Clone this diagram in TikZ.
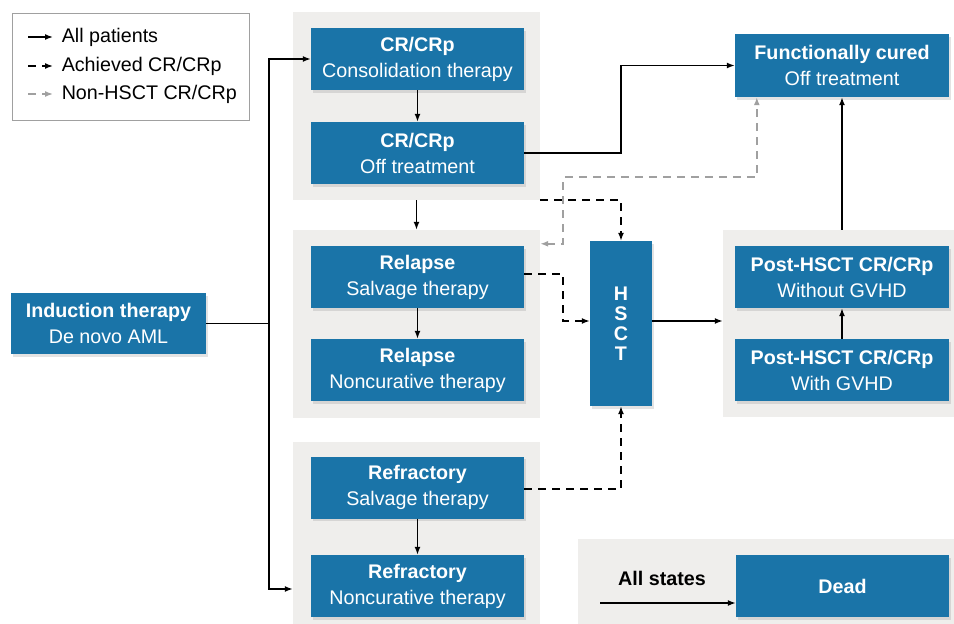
\documentclass[tikz,border=0pt]{standalone}
\usepackage{fontspec}
\setmainfont{Liberation Sans}
\usetikzlibrary{arrows.meta,shadows,calc}
\definecolor{boxblue}{RGB}{26,116,168}
\definecolor{panelgray}{RGB}{239,238,236}
\definecolor{nongray}{RGB}{160,160,160}
\begin{document}
\begin{tikzpicture}[x=1pt,y=-1pt,
  every node/.style={font=\fontsize{19.7}{26}\selectfont},
  box/.style={fill=boxblue, text=white, align=center, inner sep=0pt,
    minimum width=213pt, minimum height=62pt,
    drop shadow={opacity=0.22, shadow xshift=2pt, shadow yshift=-2.5pt}},
  panel/.style={fill=panelgray, inner sep=0pt},
  arr/.style={line width=1.5pt, -{Latex[length=8pt,width=6pt]}},
  plain/.style={line width=1.5pt},
  darr/.style={arr, dash pattern=on 8pt off 6pt},
  garr/.style={line width=1.5pt, nongray, dash pattern=on 8pt off 6pt}
]
\useasboundingbox (0,0) rectangle (954,624);
% panels
\node[panel, minimum width=247pt, minimum height=188pt] (p1) at (416.5,106) {};
\node[panel, minimum width=247pt, minimum height=188pt] (p2) at (416.5,324) {};
\node[panel, minimum width=247pt, minimum height=182pt] (p3) at (416.5,533) {};
\node[panel, minimum width=231pt, minimum height=187pt] (p4) at (838.5,323.5) {};
\node[panel, minimum width=376pt, minimum height=85pt] (p5) at (766,581.5) {};
% legend
\node[draw=nongray, line width=1pt, minimum width=237pt, minimum height=107pt, inner sep=0pt] (leg) at (130.5,66.5) {};
\coordinate (l1) at (28,37);
\coordinate (l2) at (28,66);
\coordinate (l3) at (28,94);
\draw[arr] (l1) -- ++(25,0) node[anchor=west, xshift=8pt, inner sep=0pt] (t1) {All patients};
\draw[darr] (l2) -- ++(25,0) node[anchor=west, xshift=8pt, inner sep=0pt] (t2) {Achieved CR/CRp};
\draw[garr, -{Latex[length=8pt,width=6pt]}] (l3) -- ++(25,0) node[anchor=west, xshift=8pt, inner sep=0pt, text=black] (t3) {Non-HSCT CR/CRp};
% boxes
\node[box, minimum width=195pt, minimum height=61pt] (ind) at (108.5,323.5) {\textbf{Induction therapy}\\De novo AML};
\node[box] (cons) at (417.5,59) {\textbf{CR/CRp}\\Consolidation therapy};
\node[box] (croff) at (417.5,153) {\textbf{CR/CRp}\\Off treatment};
\node[box] (relS) at (417.5,277) {\textbf{Relapse}\\Salvage therapy};
\node[box] (relN) at (417.5,370) {\textbf{Relapse}\\Noncurative therapy};
\node[box] (refS) at (417.5,487.5) {\textbf{Refractory}\\Salvage therapy};
\node[box] (refN) at (417.5,586) {\textbf{Refractory}\\Noncurative therapy};
\node[box, minimum width=62pt, minimum height=165pt] (hsct) at (621,323.5) {\textbf{H}\\[-6pt]\textbf{S}\\[-6pt]\textbf{C}\\[-6pt]\textbf{T}};
\node[box, minimum width=214pt, minimum height=63pt] (func) at (842,65.5) {\textbf{Functionally cured}\\Off treatment};
\node[box, minimum width=214pt] (postW) at (842,277) {\textbf{Post-HSCT CR/CRp}\\Without GVHD};
\node[box, minimum width=214pt] (postG) at (842,370) {\textbf{Post-HSCT CR/CRp}\\With GVHD};
\node[box] (dead) at (842.5,586) {\textbf{Dead}};
\node[font=\fontsize{19.7}{26}\selectfont\bfseries] (allst) at (662,578) {All states};
% connectors
\draw[plain] (ind.east) -- ++(63,0) coordinate (j);
\draw[arr] (j) |- (cons.west);
\draw[arr] (j) |- ($(p3.west |- refN.west)+(0,3)$);
\draw[arr] (cons.south) -- (croff.north);
\draw[arr] (croff.east) -- (croff.east -| hsct.north) |- (func.west);
\draw[arr] (p1.south) -- (p2.north);
\draw[arr] (relS.south) -- (relN.north);
\draw[arr] (refS.south) -- (refN.north);
\draw[darr] (p1.south east) -| (hsct.north);
\draw[darr] ($(relS.east)+(0,-3)$) -- ++(39,0) |- ($(hsct.west)+(0,-2.5)$);
\draw[darr] ($(refS.east)+(0,1.5)$) -| (hsct.south);
\draw[arr] ($(hsct.east)+(0,-2.5)$) -- ($(hsct.east -| p4.west)+(0,-2.5)$);
\draw[arr] (postG.north) -- (postW.south);
\draw[arr] (func.south |- p4.north) -- (func.south);
% non-HSCT gray path
\coordinate (g1) at ($(p2.north east)+(0,14)$);
\coordinate (g2) at ($(func.south west)+(22,0)$);
\draw[garr, {Latex[length=8pt,width=6pt]}-{Latex[length=8pt,width=6pt]}] (g1) -- ++(23,0) |- ($(g2)+(0,80)$) -- (g2);
% dead arrow
\coordinate (as) at (600,603);
\draw[arr] (as) -- (as -| dead.west);
\end{tikzpicture}
\end{document}
